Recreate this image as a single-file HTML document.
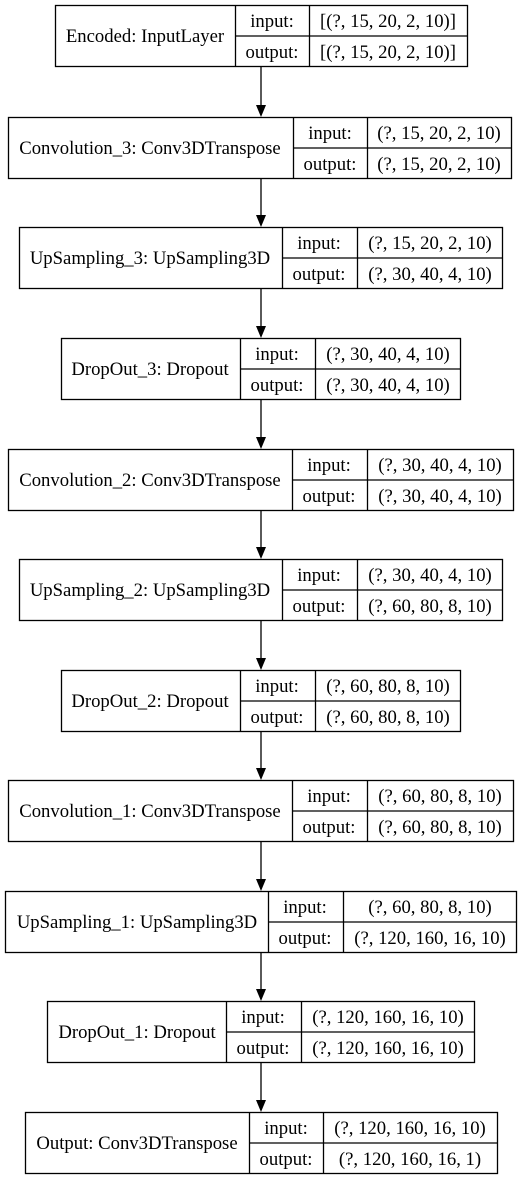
<!DOCTYPE html>
<html><head><meta charset="utf-8"><style>
html,body{margin:0;padding:0;background:#fff;}
svg{display:block;}
text{font-family:"Liberation Serif",serif;font-size:18.7px;fill:#000;}
</style></head><body>
<svg width="521" height="1180" viewBox="0 0 521 1180" xmlns="http://www.w3.org/2000/svg">
<g fill="none" stroke="#000" stroke-width="1.3">
<rect x="55.5" y="5.5" width="412" height="61"/><line x1="235.5" y1="5.5" x2="235.5" y2="66.5"/><line x1="309.5" y1="5.5" x2="309.5" y2="66.5"/><line x1="235.5" y1="36" x2="467.5" y2="36"/>
<rect x="8.5" y="117.5" width="503" height="61"/><line x1="293.5" y1="117.5" x2="293.5" y2="178.5"/><line x1="367.5" y1="117.5" x2="367.5" y2="178.5"/><line x1="293.5" y1="148" x2="511.5" y2="148"/>
<rect x="19.5" y="227.5" width="483" height="61"/><line x1="282.5" y1="227.5" x2="282.5" y2="288.5"/><line x1="357.5" y1="227.5" x2="357.5" y2="288.5"/><line x1="282.5" y1="258" x2="502.5" y2="258"/>
<rect x="61.5" y="338.5" width="399" height="61"/><line x1="240.5" y1="338.5" x2="240.5" y2="399.5"/><line x1="315.5" y1="338.5" x2="315.5" y2="399.5"/><line x1="240.5" y1="369" x2="460.5" y2="369"/>
<rect x="8.5" y="449.5" width="505" height="61"/><line x1="292.5" y1="449.5" x2="292.5" y2="510.5"/><line x1="367.5" y1="449.5" x2="367.5" y2="510.5"/><line x1="292.5" y1="480" x2="513.5" y2="480"/>
<rect x="19.5" y="559.5" width="483" height="61"/><line x1="282.5" y1="559.5" x2="282.5" y2="620.5"/><line x1="357.5" y1="559.5" x2="357.5" y2="620.5"/><line x1="282.5" y1="590" x2="502.5" y2="590"/>
<rect x="61.5" y="670.5" width="399" height="61"/><line x1="240.5" y1="670.5" x2="240.5" y2="731.5"/><line x1="315.5" y1="670.5" x2="315.5" y2="731.5"/><line x1="240.5" y1="701" x2="460.5" y2="701"/>
<rect x="8.5" y="780.5" width="505" height="61"/><line x1="292.5" y1="780.5" x2="292.5" y2="841.5"/><line x1="367.5" y1="780.5" x2="367.5" y2="841.5"/><line x1="292.5" y1="811" x2="513.5" y2="811"/>
<rect x="5.5" y="891.5" width="511" height="61"/><line x1="268.5" y1="891.5" x2="268.5" y2="952.5"/><line x1="343.5" y1="891.5" x2="343.5" y2="952.5"/><line x1="268.5" y1="922" x2="516.5" y2="922"/>
<rect x="47.5" y="1001.5" width="427" height="61"/><line x1="226.5" y1="1001.5" x2="226.5" y2="1062.5"/><line x1="301.5" y1="1001.5" x2="301.5" y2="1062.5"/><line x1="226.5" y1="1032" x2="474.5" y2="1032"/>
<rect x="25.5" y="1112.5" width="472" height="61"/><line x1="249.5" y1="1112.5" x2="249.5" y2="1173.5"/><line x1="323.5" y1="1112.5" x2="323.5" y2="1173.5"/><line x1="249.5" y1="1143" x2="497.5" y2="1143"/>
<line x1="261" y1="67" x2="261" y2="106"/>
<line x1="261" y1="179" x2="261" y2="216"/>
<line x1="261" y1="289" x2="261" y2="327"/>
<line x1="261" y1="400" x2="261" y2="438"/>
<line x1="261" y1="511" x2="261" y2="548"/>
<line x1="261" y1="621" x2="261" y2="659"/>
<line x1="261" y1="732" x2="261" y2="769"/>
<line x1="261" y1="842" x2="261" y2="880"/>
<line x1="261" y1="953" x2="261" y2="990"/>
<line x1="261" y1="1063" x2="261" y2="1101"/>
</g>
<g fill="#000">
<polygon points="256,105 266,105 261,117"/>
<polygon points="256,215 266,215 261,227"/>
<polygon points="256,326 266,326 261,338"/>
<polygon points="256,437 266,437 261,449"/>
<polygon points="256,547 266,547 261,559"/>
<polygon points="256,658 266,658 261,670"/>
<polygon points="256,768 266,768 261,780"/>
<polygon points="256,879 266,879 261,891"/>
<polygon points="256,989 266,989 261,1001"/>
<polygon points="256,1100 266,1100 261,1112"/>
</g>
<g text-anchor="middle">
<text x="145" y="42">Encoded: InputLayer</text><text x="272" y="27">input:</text><text x="272" y="58">output:</text><text x="388" y="27">[(?, 15, 20, 2, 10)]</text><text x="388" y="58">[(?, 15, 20, 2, 10)]</text>
<text x="150" y="154">Convolution_3: Conv3DTranspose</text><text x="330" y="139">input:</text><text x="330" y="170">output:</text><text x="439" y="139">(?, 15, 20, 2, 10)</text><text x="439" y="170">(?, 15, 20, 2, 10)</text>
<text x="150" y="264">UpSampling_3: UpSampling3D</text><text x="319" y="249">input:</text><text x="319" y="280">output:</text><text x="430" y="249">(?, 15, 20, 2, 10)</text><text x="430" y="280">(?, 30, 40, 4, 10)</text>
<text x="150" y="375">DropOut_3: Dropout</text><text x="277" y="360">input:</text><text x="277" y="391">output:</text><text x="388" y="360">(?, 30, 40, 4, 10)</text><text x="388" y="391">(?, 30, 40, 4, 10)</text>
<text x="150" y="486">Convolution_2: Conv3DTranspose</text><text x="329" y="471">input:</text><text x="329" y="502">output:</text><text x="440" y="471">(?, 30, 40, 4, 10)</text><text x="440" y="502">(?, 30, 40, 4, 10)</text>
<text x="150" y="596">UpSampling_2: UpSampling3D</text><text x="319" y="581">input:</text><text x="319" y="612">output:</text><text x="430" y="581">(?, 30, 40, 4, 10)</text><text x="430" y="612">(?, 60, 80, 8, 10)</text>
<text x="150" y="707">DropOut_2: Dropout</text><text x="277" y="692">input:</text><text x="277" y="723">output:</text><text x="388" y="692">(?, 60, 80, 8, 10)</text><text x="388" y="723">(?, 60, 80, 8, 10)</text>
<text x="150" y="817">Convolution_1: Conv3DTranspose</text><text x="329" y="802">input:</text><text x="329" y="833">output:</text><text x="440" y="802">(?, 60, 80, 8, 10)</text><text x="440" y="833">(?, 60, 80, 8, 10)</text>
<text x="137" y="928">UpSampling_1: UpSampling3D</text><text x="305" y="913">input:</text><text x="305" y="944">output:</text><text x="430" y="913">(?, 60, 80, 8, 10)</text><text x="430" y="944">(?, 120, 160, 16, 10)</text>
<text x="137" y="1038">DropOut_1: Dropout</text><text x="263" y="1023">input:</text><text x="263" y="1054">output:</text><text x="388" y="1023">(?, 120, 160, 16, 10)</text><text x="388" y="1054">(?, 120, 160, 16, 10)</text>
<text x="137" y="1149">Output: Conv3DTranspose</text><text x="286" y="1134">input:</text><text x="286" y="1165">output:</text><text x="410" y="1134">(?, 120, 160, 16, 10)</text><text x="410" y="1165">(?, 120, 160, 16, 1)</text>
</g>
</svg>
</body></html>
